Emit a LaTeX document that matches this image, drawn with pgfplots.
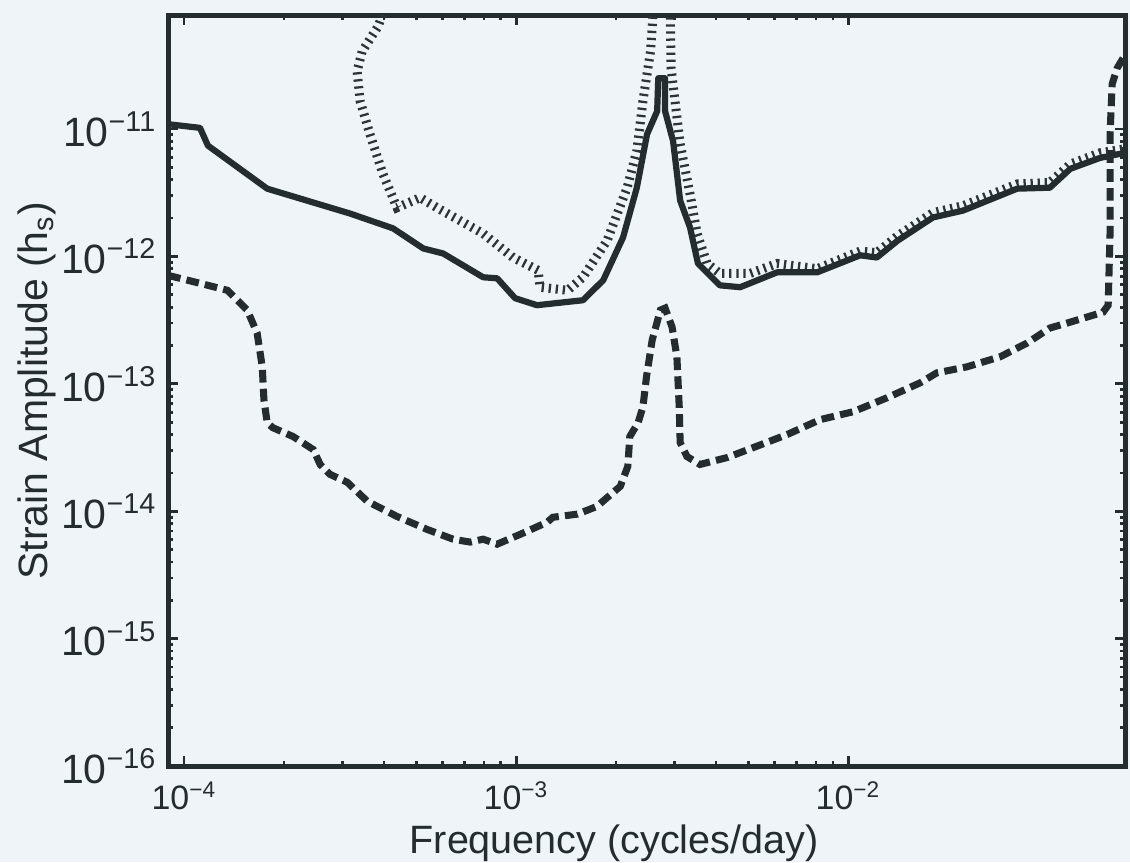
\documentclass[border=0pt]{standalone}
\usepackage{fontspec}
\setmainfont{Liberation Sans}
\usepackage{pgfplots}
\pgfplotsset{compat=1.18}
\definecolor{ink}{RGB}{36,44,48}
\definecolor{hatch}{RGB}{45,52,56}
\definecolor{bg}{RGB}{238,244,247}
\begin{document}
\begin{tikzpicture}
\fill[bg] (-59.5pt,-34pt) rectangle (340.5pt,271.2pt);
\begin{axis}[
  at={(0,0)}, anchor=south west,
  scale only axis, width=338.8pt, height=265.8pt,
  xmode=log, ymode=log,
  xmin=8.95e-5, xmax=6.83e-2, ymin=1e-16, ymax=7.8e-11,
  xtick={1e-4,1e-3,1e-2},
  xticklabels={10\textsuperscript{−4},10\textsuperscript{−3},10\textsuperscript{−2}},
  ytick={1e-16,1e-15,1e-14,1e-13,1e-12,1e-11},
  yticklabels={10\textsuperscript{−16},10\textsuperscript{−15},10\textsuperscript{−14},10\textsuperscript{−13},10\textsuperscript{−12},10\textsuperscript{−11}},
  tick align=inside,
  major tick length=3.5pt, minor tick length=1.8pt,
  axis line style={ink, line width=1.8pt},
  every tick/.style={ink, line width=1pt},
  xticklabel style={font=\fontsize{12}{14}\selectfont, text=ink},
  yticklabel style={font=\fontsize{14.5}{17}\selectfont, text=ink},
  xticklabel shift=2pt,
  yticklabel shift=0.5pt,
  xlabel={Frequency (cycles/day)},
  ylabel={Strain Amplitude (h\textsubscript{s})},
  xlabel style={at={(axis description cs:0.466,-0.1166)}, anchor=base, font=\fontsize{14}{16}\selectfont, text=ink},
  ylabel style={at={(axis description cs:-0.1263,0.5)}, anchor=base, font=\fontsize{14.5}{16}\selectfont, text=ink},
  clip=true,
]
% hatched (dotted) curve
\addplot[hatch, line width=3.2pt, dash pattern=on 0.8pt off 1.7pt] coordinates {
(4.10e-4,1.0e-10) (3.84e-4,6.38e-11) (3.44e-4,4.07e-11) (3.32e-4,2.84e-11)
(3.39e-4,1.66e-11) (3.63e-4,9.1e-12) (3.97e-4,4.45e-12) (4.38e-4,2.41e-12)
(5.14e-4,2.89e-12) (5.78e-4,2.41e-12) (7.96e-4,1.51e-12) (9.79e-4,9.8e-13)
(1.165e-3,7.78e-13) (1.18e-3,5.73e-13) (1.43e-3,5.42e-13) (1.59e-3,6.86e-13)
(1.88e-3,1.33e-12) (2.16e-3,3.46e-12) (2.31e-3,6.73e-12) (2.41e-3,1.66e-11)
(2.54e-3,4.07e-11) (2.60e-3,1.0e-10) (2.91e-3,1.0e-10) (2.93e-3,3.0e-11)
(3.01e-3,1.66e-11) (3.12e-3,7.63e-12) (3.34e-3,3.1e-12) (3.51e-3,1.51e-12)
(3.76e-3,8.8e-13) (4.11e-3,7.36e-13) (5.07e-3,7.36e-13) (6.11e-3,8.8e-13)
(8.07e-3,8.0e-13) (1.087e-2,1.1e-12) (1.22e-2,1.07e-12) (1.41e-2,1.45e-12)
(1.80e-2,2.2e-12) (2.22e-2,2.5e-12) (3.23e-2,3.7e-12) (4.05e-2,3.8e-12)
(4.67e-2,5.3e-12) (5.74e-2,6.5e-12) (6.83e-2,7.0e-12)
};
% solid curve
\addplot[ink, line width=2.2pt, line join=round] coordinates {
(8.95e-5,1.09e-11) (1.117e-4,1.02e-11) (1.18e-4,7.4e-12) (1.78e-4,3.4e-12)
(3.16e-4,2.17e-12) (4.26e-4,1.66e-12) (5.25e-4,1.155e-12) (6.03e-4,1.054e-12)
(7.96e-4,6.86e-13) (8.77e-4,6.73e-13) (9.93e-4,4.70e-13) (1.156e-3,4.14e-13)
(1.59e-3,4.53e-13) (1.83e-3,6.5e-13) (2.10e-3,1.41e-12) (2.31e-3,3.46e-12)
(2.48e-3,9.1e-12) (2.66e-3,1.38e-11) (2.68e-3,2.5e-11) (2.81e-3,2.5e-11)
(2.81e-3,1.38e-11) (2.97e-3,8.05e-12) (3.12e-3,2.74e-12) (3.34e-3,1.69e-12)
(3.53e-3,8.8e-13) (4.11e-3,5.93e-13) (4.73e-3,5.73e-13) (6.11e-3,7.5e-13)
(8.07e-3,7.5e-13) (1.087e-2,1.02e-12) (1.22e-2,9.8e-13) (1.41e-2,1.33e-12)
(1.80e-2,2.02e-12) (2.22e-2,2.29e-12) (3.23e-2,3.40e-12) (4.05e-2,3.46e-12)
(4.67e-2,4.87e-12) (5.74e-2,5.93e-12) (6.83e-2,6.5e-12)
};
% dashed curve
\addplot[ink, line width=2.5pt, dash pattern=on 4.5pt off 2.2pt] coordinates {
(8.95e-5,7.1e-13) (1.117e-4,6.15e-13) (1.35e-4,5.42e-13) (1.55e-4,3.79e-13)
(1.66e-4,2.5e-13) (1.72e-4,1.36e-13) (1.74e-4,7.5e-14) (1.78e-4,4.95e-14)
(1.85e-4,4.53e-14) (2.13e-4,3.86e-14) (2.45e-4,3.05e-14) (2.57e-4,2.33e-14)
(2.75e-4,1.95e-14) (3.10e-4,1.69e-14) (3.56e-4,1.20e-14) (4.38e-4,9.1e-15)
(5.40e-4,7.2e-15) (6.46e-4,6.04e-15) (7.27e-4,5.73e-15) (7.96e-4,6.04e-15)
(8.77e-4,5.52e-15) (1.03e-3,6.6e-15) (1.24e-3,8.2e-15) (1.29e-3,8.97e-15)
(1.53e-3,9.5e-15) (1.75e-3,1.09e-14) (2.06e-3,1.57e-14) (2.17e-3,2.25e-14)
(2.20e-3,3.86e-14) (2.33e-3,4.95e-14) (2.41e-3,6.6e-14) (2.47e-3,1.135e-13)
(2.57e-3,2.21e-13) (2.72e-3,3.79e-13) (2.81e-3,3.93e-13) (2.95e-3,2.79e-13)
(3.05e-3,1.63e-13) (3.10e-3,6.6e-14) (3.12e-3,3.46e-14) (3.27e-3,2.69e-14)
(3.58e-3,2.33e-14) (4.32e-3,2.64e-14) (5.18e-3,3.16e-14) (6.55e-3,4.0e-14)
(8.24e-3,5.24e-14) (1.035e-2,6.04e-14) (1.31e-2,7.78e-14) (1.65e-2,1.02e-13)
(1.85e-2,1.22e-13) (2.28e-2,1.36e-13) (2.87e-2,1.63e-13) (3.46e-2,2.09e-13)
(4.05e-2,2.74e-13) (4.57e-2,3.0e-13) (5.86e-2,3.65e-13) (6.07e-2,4.14e-13)
(6.15e-2,1.51e-12) (6.15e-2,9.1e-12) (6.24e-2,2.25e-11) (6.46e-2,3.0e-11)
(6.73e-2,3.59e-11)
};
\end{axis}
\pgfresetboundingbox
\path[use as bounding box] (-59.5pt,-34pt) rectangle (340.5pt,271.2pt);
\end{tikzpicture}
\end{document}
